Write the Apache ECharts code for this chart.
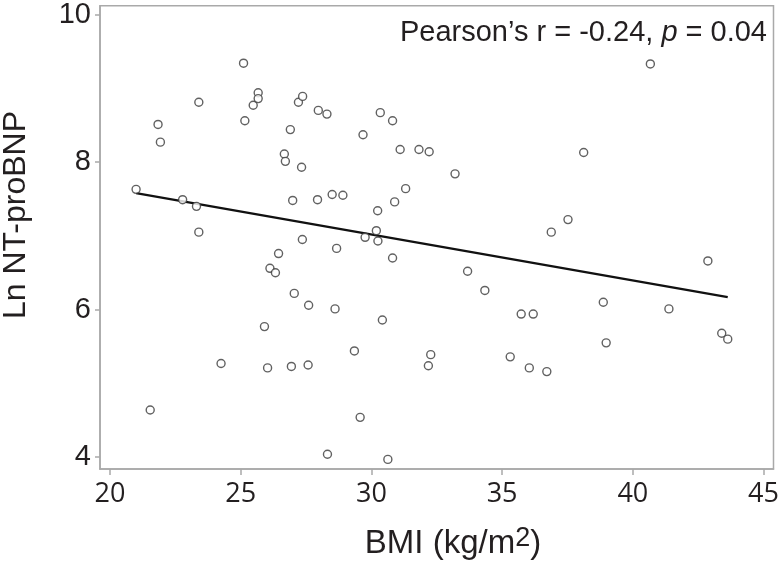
<!DOCTYPE html>
<html>
<head>
<meta charset="utf-8">
<script src="https://cdn.jsdelivr.net/npm/echarts@6/dist/echarts.min.js"></script>
<style>
  html, body { margin: 0; padding: 0; background: #fff; }
  #chart { width: 782px; height: 568px; }
</style>
</head>
<body>
<div id="chart"></div>
<script>
// BMI vs Ln NT-proBNP
var bmi = [21.0, 21.84, 21.93, 22.78, 23.31, 23.40, 23.40, 25.11, 25.16, 25.48,
  25.67, 25.67, 26.45, 26.12, 26.33, 26.67, 26.71, 26.90, 26.99, 27.21,
  27.37, 27.33, 27.36, 27.97, 28.30, 27.94, 28.50, 28.91, 28.67, 29.68,
  30.34, 30.81, 31.10, 31.82, 32.21, 33.20, 31.31, 30.89, 30.24, 30.19,
  29.76, 30.25, 30.81, 33.68, 34.34, 36.88, 37.52, 38.12, 40.67, 42.87,
  27.05, 27.60, 28.61, 30.42, 25.91, 29.35, 24.25, 26.03, 26.94, 27.58,
  21.54, 29.57, 28.32, 30.63, 35.73, 36.19, 38.87, 41.38, 38.98, 43.40,
  43.63, 32.27, 32.18, 35.31, 36.04, 36.71]
var lnBnp = [7.63, 8.51, 8.27, 7.49, 7.40, 8.81, 7.05, 9.34, 8.56, 8.77,
  8.94, 8.86, 6.76, 6.56, 6.50, 8.11, 8.01, 8.44, 7.48, 8.81,
  8.89, 7.93, 6.95, 8.70, 8.65, 7.49, 7.56, 7.55, 6.83, 8.37,
  8.67, 8.56, 8.17, 8.17, 8.14, 7.84, 7.64, 7.46, 7.34, 7.07,
  6.98, 6.93, 6.70, 6.52, 6.26, 7.05, 7.22, 8.13, 9.33, 6.66,
  6.22, 6.06, 6.01, 5.86, 5.77, 5.44, 5.27, 5.21, 5.23, 5.25,
  4.64, 4.54, 4.04, 3.97, 5.94, 5.94, 6.10, 6.01, 5.55, 5.68,
  5.60, 5.39, 5.24, 5.36, 5.21, 5.16]

// fitted line end points
var fitX = [21.0, 43.63]
var fitY = [7.58, 6.17]

var xTicks = [20, 25, 30, 35, 40, 45]
var yTicks = [4, 6, 8, 10]

var points = bmi.map(function (v, i) { return [v, lnBnp[i]] })
var fitLine = fitX.map(function (v, i) { return [v, fitY[i]] })

var axisGray = '#a9a9a9'
var txt = '#231f20'
var arial = '"Liberation Sans", Arial, sans-serif'

var chart = echarts.init(document.getElementById('chart'))
chart.setOption({
  animation: false,
  grid: {
    left: 100, top: 5, right: 5, bottom: 99,
    show: true, borderColor: axisGray, borderWidth: 1.5
  },
  xAxis: {
    type: 'value',
    min: 19.62,
    max: 45.38,
    axisLine: { show: true, lineStyle: { color: axisGray, width: 1.5 } },
    axisTick: { show: true, length: 6, customValues: xTicks, lineStyle: { color: axisGray, width: 1.5 } },
    axisLabel: {
      customValues: xTicks,
      margin: 12,
      fontSize: 27,
      fontFamily: '"Open Sans", sans-serif',
      color: txt
    },
    splitLine: { show: false }
  },
  yAxis: {
    type: 'value',
    min: 3.84,
    max: 10.12,
    axisLine: { show: true, lineStyle: { color: axisGray, width: 1.5 } },
    axisTick: { show: true, length: 5, customValues: yTicks, lineStyle: { color: axisGray, width: 1.5 } },
    axisLabel: {
      customValues: yTicks,
      margin: 9,
      fontSize: 29,
      fontFamily: arial,
      color: txt
    },
    splitLine: { show: false }
  },
  series: [
    {
      type: 'scatter',
      data: points,
      symbol: 'circle',
      symbolSize: 8,
      itemStyle: { color: '#fff', borderColor: '#3a3a3a', borderWidth: 1.4 },
      z: 3
    },
    {
      type: 'line',
      data: fitLine,
      showSymbol: false,
      symbol: 'none',
      lineStyle: { color: '#111', width: 2.2 },
      z: 2
    }
  ],
  graphic: [
    {
      type: 'text',
      x: 767, y: 47,
      style: {
        text: '{a|Pearson’s r = -0.24, }{i|p}{a| = 0.04}',
        textAlign: 'right',
        textVerticalAlign: 'bottom',
        rich: {
          a: { fontSize: 29, fontFamily: arial, fill: txt, color: txt },
          i: { fontSize: 29, fontStyle: 'italic', fontFamily: arial, fill: txt, color: txt }
        }
      }
    },
    {
      type: 'text',
      x: 16, y: 215,
      rotation: Math.PI / 2,
      style: {
        text: 'Ln NT-proBNP',
        font: '32px ' + arial,
        fill: txt,
        textAlign: 'center',
        textVerticalAlign: 'middle'
      }
    },
    {
      type: 'text',
      x: 453, y: 544,
      style: {
        text: '{a|BMI (kg/m}{s|2}{a|)}',
        textAlign: 'center',
        textVerticalAlign: 'middle',
        rich: {
          a: { fontSize: 33, fontFamily: arial, fill: txt, color: txt, lineHeight: 38 },
          s: { fontSize: 27, fontFamily: arial, fill: txt, color: txt, lineHeight: 38, verticalAlign: 'top', padding: [0, 0, 18, 0] }
        }
      }
    }
  ]
})
</script>
</body>
</html>
